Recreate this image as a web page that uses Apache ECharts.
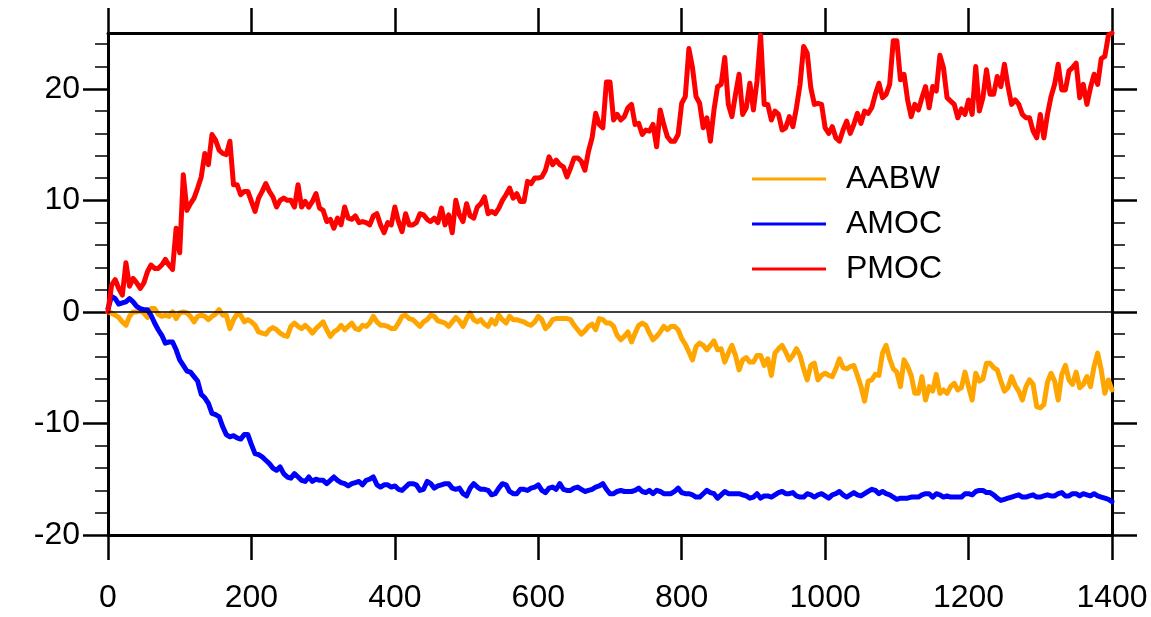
<!DOCTYPE html>
<html>
<head>
<meta charset="utf-8">
<script src="https://cdn.jsdelivr.net/npm/echarts@6/dist/echarts.min.js"></script>
<style>
html,body{margin:0;padding:0;background:#fff;}
#chart{width:1151px;height:617px;}
</style>
</head>
<body>
<div id="chart"></div>
<script>
// Sampling years (every 5 years, 0..1400)
const years = Array.from({length: 281}, (_, i) => i * 5);

const seriesNames = ['AABW', 'AMOC', 'PMOC'];
const seriesColors = ['#FFA500', '#0000FF', '#FF0000'];

const aabw = [
  0.0, -0.1, -0.3, -0.5, -0.9, -1.2, -0.4, 0.0, 0.0, 0.1,
  -0.1, -0.5, 0.3, 0.3, -0.2, -0.4, -0.3, -0.4, 0.0, -0.6,
  -0.1, 0.0, -0.1, -0.4, -0.9, -0.4, -0.3, -0.4, -0.7, -0.4,
  -0.2, 0.2, -0.3, -0.3, -1.5, -0.7, -0.2, -0.3, -0.9, -0.7,
  -0.9, -1.2, -1.8, -1.9, -2.0, -1.6, -1.4, -1.6, -1.9, -2.1,
  -2.2, -1.3, -1.0, -1.3, -1.5, -1.2, -1.5, -1.9, -1.5, -1.2,
  -0.9, -1.6, -2.2, -1.8, -1.6, -1.2, -1.6, -1.3, -1.0, -1.5,
  -1.6, -1.2, -1.3, -1.0, -0.4, -0.9, -1.2, -1.2, -1.3, -1.5,
  -1.5, -1.0, -0.4, -0.3, -0.6, -0.7, -1.0, -1.3, -0.9, -0.7,
  -0.3, -0.4, -0.8, -0.9, -1.0, -1.3, -0.9, -0.5, -0.8, -1.3,
  -0.6, -0.1, -0.7, -0.9, -0.7, -1.1, -1.3, -0.7, -1.1, -0.3,
  -0.7, -1.0, -0.4, -0.7, -0.7, -0.8, -0.9, -1.1, -1.2, -0.9,
  -0.4, -0.7, -1.5, -1.2, -0.7, -0.6, -0.6, -0.6, -0.6, -0.7,
  -1.2, -1.6, -2.0, -1.7, -1.3, -1.1, -1.6, -0.6, -0.7, -1.0,
  -1.0, -1.3, -2.1, -2.5, -2.2, -1.8, -2.7, -1.9, -1.2, -1.0,
  -1.2, -1.9, -2.5, -2.2, -1.8, -1.3, -1.6, -1.3, -1.3, -1.6,
  -2.4, -2.9, -3.6, -4.3, -3.1, -2.8, -3.0, -3.4, -3.0, -2.6,
  -3.4, -3.3, -4.5, -3.7, -3.0, -3.9, -5.2, -4.3, -4.1, -4.5,
  -4.5, -3.9, -3.9, -4.8, -4.2, -5.7, -3.7, -3.3, -3.0, -3.6,
  -4.3, -3.9, -3.3, -3.9, -5.1, -6.1, -4.8, -4.6, -6.1, -5.7,
  -5.5, -5.7, -5.8, -5.1, -4.2, -5.0, -5.1, -4.9, -4.8, -5.7,
  -6.7, -8.0, -6.2, -6.1, -5.6, -5.7, -3.7, -3.0, -4.2, -5.1,
  -5.4, -6.7, -4.3, -4.9, -5.7, -7.3, -7.3, -5.8, -7.9, -6.7,
  -7.1, -5.6, -7.3, -7.0, -7.3, -6.7, -6.4, -7.0, -6.8, -5.4,
  -6.7, -7.9, -5.5, -6.2, -6.0, -4.6, -4.6, -5.0, -5.2, -6.2,
  -7.1, -6.8, -5.8, -6.6, -7.1, -7.9, -6.7, -6.1, -6.5, -8.5,
  -8.6, -8.3, -6.3, -5.5, -6.2, -7.9, -5.6, -4.8, -6.1, -6.5,
  -5.4, -6.8, -6.5, -5.8, -6.7, -4.9, -3.7, -5.2, -7.3, -6.1,
  -7.0
];

const amoc = [
  0.3, 1.4, 1.2, 0.7, 0.8, 0.9, 1.2, 0.9, 0.5, 0.3,
  0.2, 0.2, -0.3, -1.0, -1.6, -2.1, -2.8, -2.7, -2.7, -3.4,
  -4.3, -4.8, -5.3, -5.4, -5.8, -6.2, -7.4, -7.7, -8.2, -9.1,
  -9.2, -9.4, -10.3, -11.0, -11.2, -11.1, -11.3, -11.4, -11.0, -11.0,
  -11.9, -12.7, -12.8, -13.0, -13.3, -13.6, -14.0, -14.2, -13.9, -14.5,
  -14.8, -14.9, -14.5, -14.8, -15.1, -15.2, -14.8, -15.2, -15.0, -15.1,
  -15.1, -15.4, -15.1, -14.8, -15.1, -15.3, -15.4, -15.6, -15.4, -15.3,
  -15.2, -15.5, -15.1, -15.0, -14.8, -15.5, -15.7, -15.5, -15.5, -15.7,
  -15.6, -15.9, -16.0, -15.7, -15.4, -15.4, -15.5, -16.0, -15.9, -15.2,
  -15.4, -15.8, -15.6, -15.5, -15.4, -15.4, -15.8, -15.9, -15.8, -16.3,
  -16.5, -15.8, -15.4, -15.7, -15.9, -15.9, -16.0, -16.4, -16.3, -15.8,
  -15.4, -15.5, -16.1, -16.3, -16.3, -15.9, -15.9, -16.0, -15.8, -15.7,
  -15.5, -16.0, -16.2, -15.8, -15.7, -15.9, -15.4, -15.9, -16.0, -16.0,
  -15.8, -15.7, -15.9, -16.1, -16.0, -15.9, -15.7, -15.6, -15.4, -15.9,
  -16.3, -16.3, -16.1, -16.0, -16.1, -16.1, -16.1, -16.0, -15.8, -16.1,
  -16.2, -16.0, -16.3, -16.0, -16.1, -16.3, -16.3, -16.3, -16.1, -15.8,
  -16.2, -16.3, -16.3, -16.4, -16.6, -16.6, -16.3, -16.0, -16.2, -16.3,
  -16.7, -16.4, -16.1, -16.3, -16.3, -16.3, -16.3, -16.4, -16.5, -16.7,
  -16.6, -16.3, -16.7, -16.5, -16.5, -16.6, -16.4, -16.2, -16.1, -16.3,
  -16.3, -16.2, -16.5, -16.6, -16.6, -16.3, -16.4, -16.6, -16.4, -16.3,
  -16.5, -16.7, -16.4, -16.3, -16.1, -16.4, -16.6, -16.4, -16.2, -16.4,
  -16.5, -16.3, -16.1, -15.9, -16.0, -16.3, -16.1, -16.3, -16.4, -16.6,
  -16.8, -16.7, -16.7, -16.7, -16.6, -16.6, -16.6, -16.4, -16.3, -16.3,
  -16.6, -16.3, -16.4, -16.6, -16.5, -16.6, -16.6, -16.6, -16.6, -16.3,
  -16.3, -16.4, -16.1, -16.0, -16.0, -16.2, -16.2, -16.4, -16.7, -16.9,
  -16.8, -16.7, -16.6, -16.5, -16.4, -16.6, -16.6, -16.5, -16.4, -16.6,
  -16.6, -16.5, -16.4, -16.5, -16.5, -16.3, -16.2, -16.5, -16.5, -16.3,
  -16.3, -16.5, -16.3, -16.4, -16.5, -16.3, -16.5, -16.6, -16.7, -16.8,
  -17.0
];

const pmoc = [
  0.0, 2.4, 2.9, 2.1, 1.5, 4.4, 2.3, 3.0, 2.6, 2.1,
  2.6, 3.6, 4.2, 3.9, 3.9, 4.2, 4.7, 4.2, 3.8, 7.5,
  5.3, 12.3, 9.1, 9.7, 10.2, 11.1, 12.1, 14.2, 13.2, 15.9,
  15.4, 14.5, 14.2, 14.1, 15.3, 11.4, 11.4, 10.5, 10.8, 10.8,
  9.9, 9.0, 10.2, 10.8, 11.5, 10.8, 10.3, 9.4, 10.0, 10.2,
  10.0, 10.0, 9.4, 11.4, 9.4, 9.9, 9.4, 9.9, 10.6, 9.3,
  9.1, 8.1, 8.3, 7.5, 8.4, 7.8, 9.4, 8.4, 8.3, 8.6,
  8.0, 8.1, 8.0, 7.8, 8.6, 8.8, 7.8, 7.1, 8.0, 7.8,
  9.4, 8.1, 7.2, 8.8, 7.8, 7.8, 8.0, 8.8, 8.7, 8.3,
  8.1, 8.4, 8.0, 9.3, 7.8, 8.7, 7.1, 10.0, 8.7, 8.1,
  9.7, 8.6, 8.4, 9.4, 9.7, 10.3, 8.8, 9.0, 8.8, 9.3,
  10.0, 10.5, 11.1, 10.2, 10.6, 9.9, 9.9, 11.7, 11.5, 12.0,
  12.0, 12.1, 12.7, 13.9, 13.2, 13.6, 13.2, 13.0, 12.1, 12.9,
  13.8, 13.8, 13.5, 12.7, 14.4, 15.6, 17.8, 16.8, 16.5, 20.6,
  20.6, 17.2, 17.7, 17.2, 17.5, 18.3, 18.6, 16.8, 16.9, 15.9,
  16.3, 16.2, 16.8, 14.8, 18.1, 16.8, 15.7, 15.3, 15.3, 15.9,
  18.7, 19.3, 23.6, 21.9, 19.3, 18.7, 16.5, 17.4, 15.3, 18.1,
  20.2, 20.4, 22.8, 18.6, 17.5, 19.5, 21.3, 17.7, 18.3, 20.5,
  18.1, 20.7, 24.8, 18.6, 18.6, 17.2, 18.0, 17.7, 16.3, 16.5,
  17.5, 16.6, 18.3, 20.4, 23.8, 23.2, 20.1, 18.6, 18.7, 18.6,
  16.5, 16.0, 16.6, 15.6, 15.3, 16.3, 17.1, 16.0, 16.8, 17.8,
  16.9, 18.0, 17.8, 18.3, 19.5, 20.5, 19.2, 19.5, 20.4, 24.3,
  24.3, 20.8, 21.3, 19.0, 17.5, 18.6, 18.1, 19.2, 20.2, 18.3,
  20.2, 19.8, 23.0, 21.9, 19.2, 18.9, 18.6, 17.4, 18.2, 17.7,
  19.0, 17.7, 22.0, 18.0, 19.2, 21.7, 19.5, 19.5, 21.1, 20.2,
  22.2, 20.2, 18.6, 19.0, 18.6, 17.7, 17.4, 17.4, 16.2, 15.6,
  17.7, 15.6, 17.7, 19.3, 20.4, 22.2, 19.9, 19.9, 21.6, 21.9,
  22.3, 19.2, 20.4, 18.6, 20.1, 21.3, 20.4, 22.7, 22.9, 24.8,
  25.0
];

const xTicks = [0, 200, 400, 600, 800, 1000, 1200, 1400];
const yMajorTicks = [-20, -10, 0, 10, 20];
const yMinorTicks = [-18, -16, -14, -12, -8, -6, -4, -2, 2, 4, 6, 8, 12, 14, 16, 18, 22, 24];

const seriesValues = [aabw, amoc, pmoc];

const FONT = '"Liberation Sans", Arial, Helvetica, sans-serif';
const AXIS_W = 3;
const plain = v => String(v);

function yAxisDef(position, ticks, len, width, showLine, showLabel) {
  return {
    type: 'value', position: position, min: -20, max: 25, interval: 10,
    axisLine: {show: showLine, onZero: false, lineStyle: {color: '#000', width: AXIS_W}},
    axisTick: {show: true, inside: false, length: len, customValues: ticks,
      lineStyle: {color: '#000', width: width}},
    axisLabel: {show: showLabel, customValues: yMajorTicks, margin: 28, formatter: plain,
      color: '#000', fontSize: 32, fontFamily: FONT},
    splitLine: {show: false}
  };
}

const chart = echarts.init(document.getElementById('chart'), null, {renderer: 'canvas'});
chart.setOption({
  animation: false,
  backgroundColor: '#fff',
  grid: {left: 108, right: 39, top: 33, bottom: 82, containLabel: false},
  legend: {
    data: seriesNames, orient: 'vertical', left: 747, top: 158, padding: 5,
    icon: 'rect', itemWidth: 74, itemHeight: 3, itemGap: 13,
    selectedMode: false,
    textStyle: {fontSize: 32, color: '#000', fontFamily: FONT, lineHeight: 32, padding: [0, 0, 0, 15]}
  },
  xAxis: [
    {
      type: 'value', position: 'bottom', min: 0, max: 1400, interval: 200,
      axisLine: {onZero: false, lineStyle: {color: '#000', width: AXIS_W}},
      axisTick: {inside: false, length: 25, customValues: xTicks, lineStyle: {color: '#000', width: 2.5}},
      axisLabel: {customValues: xTicks, margin: 47, formatter: plain, color: '#000', fontSize: 32, fontFamily: FONT},
      splitLine: {show: false}
    },
    {
      type: 'value', position: 'top', min: 0, max: 1400, interval: 200,
      axisLine: {onZero: false, lineStyle: {color: '#000', width: AXIS_W}},
      axisTick: {inside: false, length: 25, customValues: xTicks, lineStyle: {color: '#000', width: 2.5}},
      axisLabel: {show: false},
      splitLine: {show: false}
    }
  ],
  yAxis: [
    yAxisDef('left', yMajorTicks, 25, 2.5, true, true),
    yAxisDef('right', yMajorTicks, 25, 2.5, true, false),
    yAxisDef('left', yMinorTicks, 13, 1.5, false, false),
    yAxisDef('right', yMinorTicks, 13, 1.5, false, false)
  ],
  series: seriesNames.map((name, k) => ({
    name: name, type: 'line', xAxisIndex: 0, yAxisIndex: 0,
    showSymbol: false, symbol: 'none',
    color: seriesColors[k],
    lineStyle: {color: seriesColors[k], width: 5, join: 'round', cap: 'round'},
    data: years.map((yr, i) => [yr, seriesValues[k][i]]),
    markLine: k === 2 ? {
      silent: true, symbol: ['none', 'none'], label: {show: false},
      lineStyle: {color: '#000', width: 1.5, type: 'solid'},
      data: [{yAxis: 0}]
    } : undefined
  }))
});
</script>
</body>
</html>
